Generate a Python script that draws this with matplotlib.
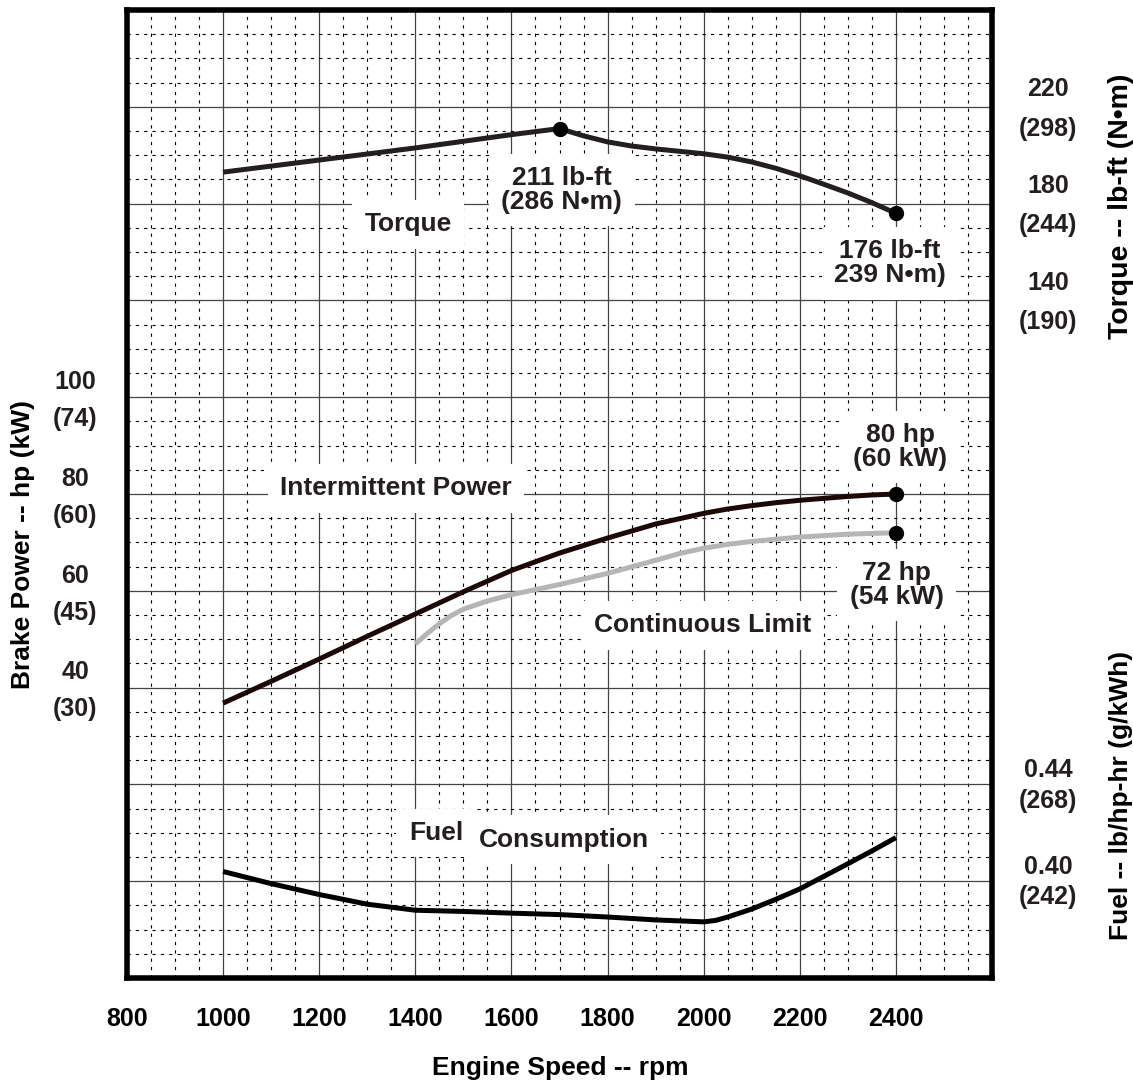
import matplotlib
matplotlib.use('Agg')
import matplotlib.pyplot as plt
from matplotlib.ticker import MultipleLocator, FuncFormatter, NullFormatter

plt.rcParams['font.family'] = ['Liberation Sans', 'DejaVu Sans']
plt.rcParams['font.weight'] = 'bold'
plt.rcParams['text.color'] = '#231f20'

# torque, lb-ft
rpm_torque = [1000, 1200, 1400, 1600, 1700, 1750, 1800, 1850, 1900, 1950, 2000, 2050, 2100, 2150, 2200, 2250, 2300, 2350, 2400]
torque = [193, 198, 203, 208.5, 211, 208, 205.5, 203.8, 202.6, 201.6, 200.6, 199.2, 197.2, 194.6, 191.5, 188, 184.4, 180.4, 176]

# intermittent power, hp
rpm_int = [1000, 1100, 1200, 1300, 1400, 1500, 1600, 1700, 1800, 1900, 2000, 2050, 2100, 2150, 2200, 2250, 2300, 2350, 2400]
power_int = [36.8, 41.3, 45.9, 50.6, 55.2, 59.8, 64.2, 67.8, 70.9, 73.8, 76.0, 76.9, 77.6, 78.2, 78.7, 79.1, 79.5, 79.8, 80]

# continuous limit, hp
rpm_cont = [1400, 1425, 1450, 1475, 1500, 1550, 1600, 1700, 1800, 1900, 1950, 2000, 2050, 2100, 2200, 2300, 2400]
power_cont = [49, 51.2, 53.2, 54.9, 56.2, 57.9, 59.2, 61.3, 63.6, 66.3, 67.7, 68.8, 69.6, 70.2, 71.1, 71.7, 72]

# fuel consumption, lb/hp-hr
rpm_fuel = [1000, 1100, 1200, 1300, 1400, 1500, 1600, 1700, 1800, 1900, 1950, 2000, 2025, 2050, 2100, 2150, 2200, 2250, 2300, 2350, 2400]
fuel = [0.404, 0.399, 0.3945, 0.3905, 0.388, 0.3875, 0.3868, 0.3862, 0.3852, 0.384, 0.3836, 0.3832, 0.3838, 0.3852, 0.3885, 0.3925, 0.3968, 0.402, 0.4072, 0.4125, 0.418]

x_ticks = [800, 1000, 1200, 1400, 1600, 1800, 2000, 2200, 2400]
power_ticks = [40, 60, 80, 100]
power_kw = ['(30)', '(45)', '(60)', '(74)']
torque_ticks = [140, 180, 220]
torque_nm = ['(190)', '(244)', '(298)']
fuel_ticks = [0.40, 0.44]
fuel_gkwh = ['(242)', '(268)']

dark = '#231f20'

fig = plt.figure(figsize=(11.33, 10.82), dpi=100)
ax = fig.add_axes([127 / 1133, 104 / 1082, 865 / 1133, 968 / 1082])
ax_t = ax.twinx()
ax_f = ax.twinx()

ax.set_xlim(800, 2600)
ax.set_ylim(-20, 180)
ax_t.set_ylim(-140, 260)
ax_f.set_ylim(0.36, 0.76)

# grid on the power axis
ax.xaxis.set_major_locator(MultipleLocator(200))
ax.xaxis.set_minor_locator(MultipleLocator(50))
ax.yaxis.set_major_locator(MultipleLocator(20))
ax.yaxis.set_minor_locator(MultipleLocator(5))
ax.grid(which='major', color='#444444', linewidth=0.9, linestyle='-')
ax.grid(which='minor', color='black', linewidth=0.8, linestyle=(0, (2.9, 4.6)))
ax.set_axisbelow(True)

ax.xaxis.set_major_formatter(FuncFormatter(lambda v, p: '%d' % v if v in x_ticks else ''))
ax.yaxis.set_major_formatter(NullFormatter())
ax.tick_params(which='both', length=0)
ax.tick_params(axis='x', labelsize=18, pad=21)

for a in (ax_t, ax_f):
    a.set_yticks([])
    for s in a.spines.values():
        s.set_visible(False)

for s in ax.spines.values():
    s.set_linewidth(4)
    s.set_color('black')

# paired scale labels (imperial above the line, metric below)
def pair_labels(a, ticks, metric, xpos, up, down):
    for v, m in zip(ticks, metric):
        a.annotate(('%g' % v) if v >= 1 else '%.2f' % v, (xpos, v), xycoords=('axes fraction', 'data'),
                   xytext=(0, up), textcoords='offset points', ha='center', va='center', fontsize=18)
        a.annotate(m, (xpos, v), xycoords=('axes fraction', 'data'),
                   xytext=(0, down), textcoords='offset points', ha='center', va='center', fontsize=18)

pair_labels(ax, power_ticks, power_kw, -0.0601, 11, -15.7)
pair_labels(ax_t, torque_ticks, torque_nm, 1.0647, 12.5, -15.7)
pair_labels(ax_f, fuel_ticks, fuel_gkwh, 1.0647, 10.3, -11.7)

# curves
ax.plot(rpm_int, power_int, color='#1c0808', linewidth=3.6, solid_capstyle='butt', zorder=4)
ax.plot(rpm_cont, power_cont, color='#b5b5b5', linewidth=3.6, solid_capstyle='butt', zorder=4)
ax.plot([2400, 2400], [80, 72], 'o', color='black', markersize=10, zorder=5)
ax_t.plot(rpm_torque, torque, color=dark, linewidth=3.6, solid_capstyle='butt', zorder=4)
ax_t.plot([1700, 2400], [211, 176], 'o', color='black', markersize=10, zorder=5)
ax_f.plot(rpm_fuel, fuel, color='black', linewidth=3.6, solid_capstyle='butt', zorder=4)

box = dict(facecolor='white', edgecolor='none', pad=9)
tkw = dict(fontsize=19, ha='center', va='center', bbox=box, zorder=3)

ax_t.text(1385, 171.5, 'Torque', **tkw)
ax_t.text(1705, 185.6, '211 lb-ft\n(286 N\u2022m)', linespacing=1.0, **tkw)
ax_t.text(2388, 155.4, '176 lb-ft\n239 N\u2022m)', linespacing=1.0, **tkw)
ax.text(1360, 81.2, 'Intermittent Power', **tkw)
ax.text(2409, 89.7, '80 hp\n(60 kW)', linespacing=1.0, **tkw)
ax.text(2402, 61.2, '72 hp\n(54 kW)', linespacing=1.0, **tkw)
ax.text(1997, 52.9, 'Continuous Limit', **tkw)
ax_f.text(1443, 0.4199, 'Fuel', **tkw)
ax_f.text(1709, 0.4172, 'Consumption', **tkw)

ax.set_xlabel('Engine Speed -- rpm', fontsize=19, fontweight='bold')
ax.xaxis.set_label_coords(0.5006, -0.093)
ax.xaxis.label.set_va('center')
ax.set_ylabel('Brake Power -- hp (kW)', fontsize=19, fontweight='bold')
ax.yaxis.set_label_coords(-0.120, 0.448)
ax.yaxis.label.set_va('center')
ax_t.yaxis.set_label_position('right')
ax_t.set_ylabel('Torque -- lb-ft (N\u2022m)', fontsize=20.5, fontweight='bold', rotation=90)
ax_t.yaxis.set_label_coords(1.149, 0.797)
ax_t.yaxis.label.set_va('center')
ax_f.yaxis.set_label_position('right')
ax_f.set_ylabel('Fuel -- lb/hp-hr (g/kWh)', fontsize=19, fontweight='bold', rotation=90)
ax_f.yaxis.set_label_coords(1.149, 0.189)
ax_f.yaxis.label.set_va('center')

fig.savefig('out.png', dpi=100)
